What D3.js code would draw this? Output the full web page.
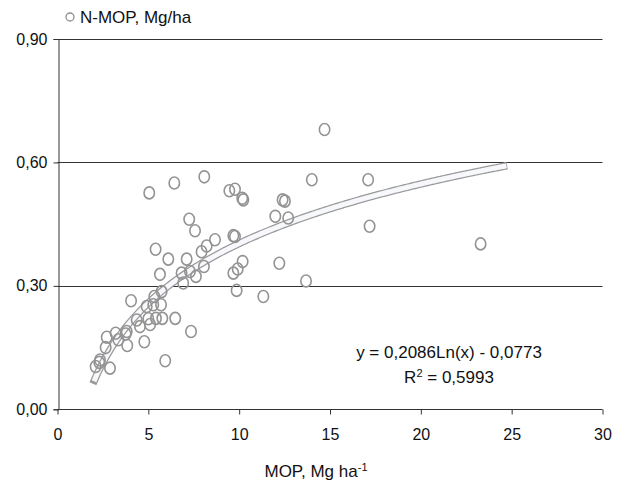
<!DOCTYPE html>
<html><head><meta charset="utf-8">
<script src="https://cdn.jsdelivr.net/npm/d3@7"></script>
<style>
body{margin:0;background:#fff;}
svg{display:block;font-family:"Liberation Sans",Arial,sans-serif;}
</style></head>
<body>
<svg id="chart" width="628" height="480"></svg>
<script>
// data
const mopX = [2.10,2.34,2.89,2.65,2.71,3.20,3.35,3.75,3.84,4.78,4.05,4.36,4.54,4.91,5.00,5.10,5.27,5.33,5.42,5.70,5.73,5.77,5.64,5.40,5.93,6.48,6.10,6.83,6.92,7.11,7.29,7.35,7.62,7.25,7.57,7.93,8.06,8.21,8.67,5.05,6.43,8.08,9.46,9.77,10.17,10.23,9.68,9.77,9.68,9.92,10.19,9.86,11.33,11.99,12.39,12.52,12.70,12.21,13.68,14.00,14.70,17.10,17.18,23.29,3.81,2.30];
const nMop = [0.104,0.120,0.100,0.150,0.175,0.185,0.169,0.183,0.155,0.164,0.264,0.217,0.201,0.250,0.220,0.206,0.254,0.274,0.221,0.254,0.286,0.221,0.328,0.389,0.118,0.221,0.365,0.331,0.307,0.365,0.335,0.189,0.323,0.462,0.434,0.383,0.347,0.397,0.412,0.526,0.550,0.565,0.531,0.535,0.513,0.509,0.422,0.420,0.331,0.341,0.359,0.289,0.274,0.469,0.509,0.506,0.465,0.355,0.312,0.558,0.680,0.558,0.445,0.402,0.189,0.114];
const xTicks = [0,5,10,15,20,25,30];
const yTicks = [0,0.3,0.6,0.9];
const trendA = 0.2086, trendB = -0.0773;
const trendRange = [1.95, 24.8];
const seriesName = "N-MOP, Mg/ha";
const equationText = "y = 0,2086Ln(x) - 0,0773";
const r2Value = "0,5993";

const svg = d3.select("#chart");
const x = d3.scaleLinear().domain([0,30]).range([57.5,602.5]);
const y = d3.scaleLinear().domain([0,0.9]).range([409.3,39]);
const fmtY = d => d3.format(".2f")(d).replace(".", ",");
const axisColor = "#333";

// gridlines
svg.append("g").selectAll("line").data(yTicks.filter(d=>d>0)).join("line")
  .attr("x1", x(0)).attr("x2", x(30))
  .attr("y1", d=>Math.round(y(d))+0.5).attr("y2", d=>Math.round(y(d))+0.5)
  .attr("stroke", axisColor).attr("stroke-width",1);

// axes
const gx = svg.append("g").attr("transform",`translate(0,${Math.round(y(0))+0.5})`)
  .call(d3.axisBottom(x).tickValues(xTicks).tickSize(5).tickPadding(14).tickFormat(d3.format("d")));
const gy = svg.append("g").attr("transform",`translate(${Math.round(x(0))+0.5},0)`)
  .call(d3.axisLeft(y).tickValues(yTicks).tickSize(5).tickPadding(6).tickFormat(fmtY));
[gx,gy].forEach(g=>{
  g.select(".domain").attr("stroke",axisColor);
  g.selectAll(".tick line").attr("stroke",axisColor);
  g.selectAll("text").attr("fill","#111").style("font-size","16px").style("font-family",'"Liberation Sans",Arial,sans-serif');
});
gx.select(".domain").attr("d",`M${x(0)},0H${x(30)}`);

// trendline (double line look)
const tx = d3.range(trendRange[0], trendRange[1]+0.001, 0.1);
const line = d3.line().x(d=>x(d)).y(d=>y(trendA*Math.log(d)+trendB));
svg.append("path").attr("d", line(tx)).attr("fill","none")
  .attr("stroke","#9a9a9a").attr("stroke-width",7.5).attr("stroke-linecap","butt");
const tx2 = d3.range(trendRange[0]+0.06, trendRange[1]-0.05, 0.1);
svg.append("path").attr("d", line(tx2)).attr("fill","none")
  .attr("stroke","#f7f8fc").attr("stroke-width",5).attr("stroke-linecap","butt");

// points
const pts = mopX.map((v,i)=>({x:v,y:nMop[i]}));
svg.append("g").selectAll("ellipse").data(pts).join("ellipse")
  .attr("cx",d=>x(d.x)).attr("cy",d=>y(d.y)).attr("rx",5.2).attr("ry",6)
  .attr("fill","none").attr("stroke","#939393").attr("stroke-width",1.6);

// legend
svg.append("circle").attr("cx",70).attr("cy",17).attr("r",4)
  .attr("fill","none").attr("stroke","#8f8f8f").attr("stroke-width",1.3);
svg.append("text").attr("x",80).attr("y",17).attr("dy","0.36em")
  .style("font-size","17px").attr("fill","#111").text(seriesName);

// equation
const eq = svg.append("text").attr("text-anchor","middle").style("font-size","17px").attr("fill","#111");
eq.append("tspan").attr("x",449).attr("y",358).text(equationText);
const r2 = svg.append("text").attr("text-anchor","middle").style("font-size","17px").attr("fill","#111")
  .attr("x",449).attr("y",383);
r2.append("tspan").text("R");
r2.append("tspan").attr("dy",-6).style("font-size","11px").text("2");
r2.append("tspan").attr("dy",6).text(" = " + r2Value);

// x-axis title
const xt = svg.append("text").attr("text-anchor","middle").style("font-size","17px").attr("fill","#111")
  .attr("x",316).attr("y",477);
xt.append("tspan").text("MOP, Mg ha");
xt.append("tspan").attr("dy",-6).style("font-size","11px").text("-1");
</script>
</body></html>
